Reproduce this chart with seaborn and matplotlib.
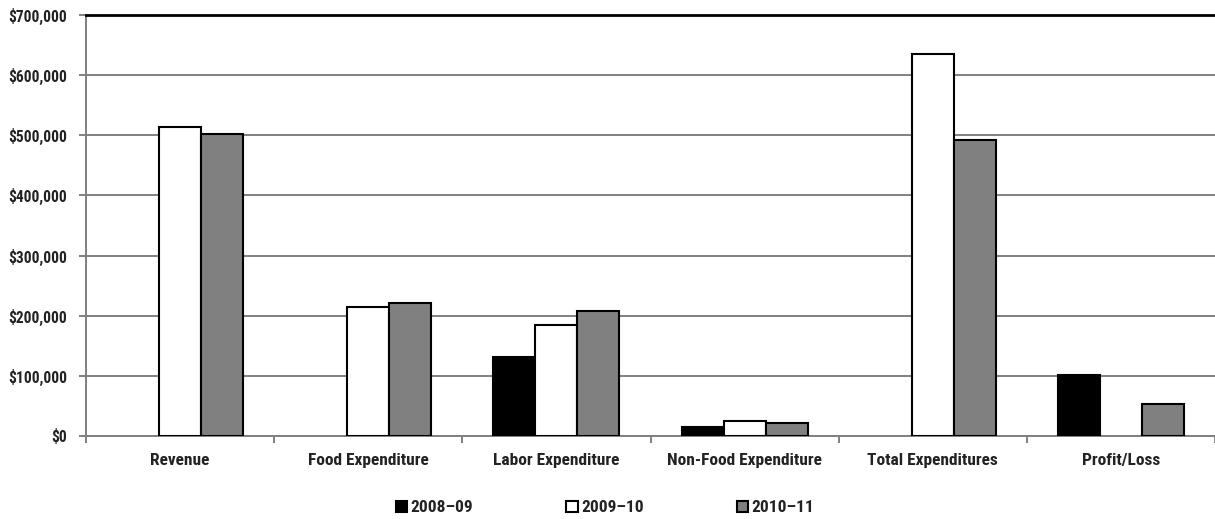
import numpy as np
import pandas as pd
import matplotlib
matplotlib.use("Agg")
import matplotlib.pyplot as plt
import seaborn as sns
from matplotlib.ticker import FuncFormatter, FixedLocator

categories = ["Revenue", "Food Expenditure", "Labor Expenditure",
              "Non-Food Expenditure", "Total Expenditures", "Profit/Loss"]
years = ["2008\u201309", "2009\u201310", "2010\u201311"]
v_2008_09 = [np.nan, np.nan, 131400, 15000, np.nan, 101400]
v_2009_10 = [513800, 215000, 185100, 24400, 634700, np.nan]
v_2010_11 = [502700, 220600, 207800, 21600, 492700, 53200]
colors = ["#000000", "#ffffff", "#808080"]
yticks = [0, 100000, 200000, 300000, 400000, 500000, 600000, 700000]

rows = []
for yr, vals in zip(years, [v_2008_09, v_2009_10, v_2010_11]):
    for c, v in zip(categories, vals):
        rows.append({"Category": c, "Year": yr, "Value": v})
df = pd.DataFrame(rows)

sns.set_style("white")
plt.rcParams["font.family"] = ["Roboto Condensed", "Liberation Sans Narrow",
                               "Liberation Sans", "DejaVu Sans"]

fig = plt.figure(figsize=(12.15, 5.19), dpi=100)
ax = fig.add_axes([86 / 1215, 1 - 436 / 519, (1215 - 86) / 1215, (436 - 15) / 519])

sns.barplot(data=df, x="Category", y="Value", hue="Year", order=categories,
            hue_order=years, palette=colors, edgecolor="black", linewidth=1.5,
            width=0.67, ax=ax, errorbar=None, legend=True, zorder=3)

ax.set_ylim(0, 700000)
ax.set_xlim(-0.5, len(categories) - 0.5)
ax.set_yticks(yticks)
ax.yaxis.set_major_formatter(FuncFormatter(lambda v, p: f"${v:,.0f}"))
ax.yaxis.grid(True, color="#808080", linewidth=1.4, zorder=0)
ax.set_axisbelow(True)

# category boundaries as major ticks, labels as minor ticks at centers
ax.xaxis.set_major_locator(FixedLocator(np.arange(-0.5, len(categories) + 0.5, 1)))
ax.xaxis.set_minor_locator(FixedLocator(np.arange(len(categories))))
ax.set_xticklabels([], minor=False)
ax.set_xticklabels(categories, minor=True)
ax.tick_params(axis="x", which="major", direction="out", length=5, width=1.4,
               color="#808080", bottom=True)
ax.tick_params(axis="x", which="minor", length=0, pad=12, labelsize=12.5,
               labelcolor="#222222")
ax.tick_params(axis="y", direction="out", length=5, width=1.4, color="#808080",
               left=True, labelsize=11.2, labelcolor="#222222", pad=8.5)
for lab in ax.get_xticklabels(minor=True) + ax.get_yticklabels():
    lab.set_fontweight("bold")

ax.set_xlabel("")
ax.set_ylabel("")
for s in ["left", "bottom"]:
    ax.spines[s].set_color("#808080")
    ax.spines[s].set_linewidth(1.4)
ax.spines["right"].set_visible(False)
ax.spines["top"].set_color("black")
ax.spines["top"].set_linewidth(2)
ax.spines["top"].set_zorder(5)

handles, labels = ax.get_legend_handles_labels()
ax.legend_.remove()
leg = fig.legend(handles, labels, loc="center", bbox_to_anchor=(605 / 1215, 1 - 508 / 519),
                 ncol=3, frameon=False, columnspacing=5.35, handlelength=0.65,
                 handleheight=0.65, handletextpad=0.2, prop={"size": 12.5, "weight": "bold"})
for t in leg.get_texts():
    t.set_color("#222222")

fig.savefig("out.png", dpi=100)
